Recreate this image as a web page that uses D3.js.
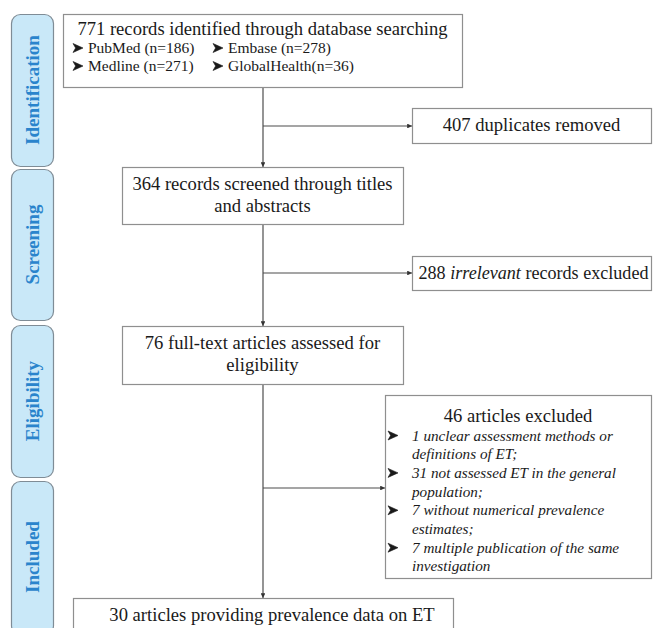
<!DOCTYPE html>
<meta charset='utf-8'>
<style>
  body { margin: 0; background: #fff; }
  svg text { font-family: 'Liberation Serif', 'Times New Roman', serif; fill: #1a1a1a; }
  .box { fill: #fff; stroke: #8f8f8f; stroke-width: 1.2px; }
  .stage rect { fill: #c9e8f8; stroke: #7f8c96; stroke-width: 1.2px; }
  .stage text { fill: #2a84cc; font-weight: bold; font-size: 19px; }
  .flow { stroke: #4d4d4d; stroke-width: 1.2px; fill: none; }
  .bullet { fill: #1a1a1a; stroke: #1a1a1a; stroke-width: 0.6px; stroke-linejoin: round; }
</style>
<svg width='653' height='628'></svg>
<script src='https://cdn.jsdelivr.net/npm/d3@7'></script>
<script>
  // ---- data ----
  var stages = ['Identification', 'Screening', 'Eligibility', 'Included'];
  var sources = ['PubMed', 'Embase', 'Medline', 'GlobalHealth'];
  var sourceCounts = [186, 278, 271, 36];
  var keptCounts = [771, 364, 76, 30];
  var keptLabels = [
    ['records identified through database searching'],
    ['records screened through titles', 'and abstracts'],
    ['full-text articles assessed for', 'eligibility'],
    ['articles providing prevalence data on ET']
  ];
  var removedCounts = [407, 288, 46];
  var removedLabels = ['duplicates removed', 'irrelevant records excluded', 'articles excluded'];
  var reasonCounts = [1, 31, 7, 7];
  var reasonLabels = [
    ['unclear assessment methods or', 'definitions of ET;'],
    ['not assessed ET in the general', 'population;'],
    ['without numerical prevalence', 'estimates;'],
    ['multiple publication of the same', 'investigation']
  ];

  // ---- layout ----
  var svg = d3.select('svg');
  var stageY = [[14, 166], [169, 320], [325, 477], [481, 634]];
  var mainBox = [[63, 14, 462, 87], [122, 167, 403, 224], [122, 326, 403, 384], [73, 598, 453, 660]];
  var sideBox = [[412, 108, 651, 143], [412, 256, 651, 290], [385, 395, 651, 578]];
  var branchY = [126, 273, 488];
  var spineX = 263;

  svg.append('defs').append('marker')
      .attr('id', 'arr').attr('viewBox', '0 0 6 6').attr('refX', 6).attr('refY', 3)
      .attr('markerWidth', 4).attr('markerHeight', 4).attr('orient', 'auto')
    .append('path').attr('d', 'M0,0L6,3L0,6Z').attr('fill', '#333');

  // stage labels
  var st = svg.append('g').selectAll('g.stage').data(stages).enter().append('g').attr('class', 'stage');
  st.append('rect')
      .attr('x', 11.5).attr('width', 42).attr('rx', 9)
      .attr('y', (d, i) => stageY[i][0] + 0.5)
      .attr('height', (d, i) => stageY[i][1] - stageY[i][0]);
  st.append('text')
      .attr('text-anchor', 'middle')
      .attr('transform', (d, i) => {
        var cy = i === 3 ? 557 : (stageY[i][0] + stageY[i][1]) / 2;
        return 'translate(39,' + cy + ') rotate(-90)';
      })
      .text(d => d);

  // flow lines
  var g = svg.append('g');
  for (var i = 0; i < 3; i++) {
    g.append('line').attr('class', 'flow')
        .attr('x1', spineX).attr('x2', spineX)
        .attr('y1', mainBox[i][3]).attr('y2', mainBox[i + 1][1])
        .attr('marker-end', 'url(#arr)');
    g.append('line').attr('class', 'flow')
        .attr('x1', spineX).attr('x2', sideBox[i][0])
        .attr('y1', branchY[i]).attr('y2', branchY[i])
        .attr('marker-end', 'url(#arr)');
  }

  // boxes
  function drawBox(b) {
    g.append('rect').attr('class', 'box')
        .attr('x', b[0] + 0.5).attr('y', b[1] + 0.5)
        .attr('width', b[2] - b[0]).attr('height', b[3] - b[1]);
  }
  mainBox.forEach(drawBox);
  sideBox.forEach(drawBox);

  // arrowhead bullet (like the Wingdings one)
  function bullet(x, y) {
    g.append('path').attr('class', 'bullet')
        .attr('transform', 'translate(' + x + ',' + y + ')')
        .attr('d', 'M0,-4.5L10,0L0,4.5L2.6,0Z');
  }

  // main box text
  var mainBase = [[35], [190, 212], [349, 371], [621]];
  var mainShift = [0, 0, 0, 9];
  keptCounts.forEach((c, i) => {
    var cx = (mainBox[i][0] + mainBox[i][2]) / 2 + mainShift[i];
    keptLabels[i].forEach((l, j) => {
      g.append('text').attr('x', cx).attr('y', mainBase[i][j])
          .attr('text-anchor', 'middle').attr('font-size', 18.6)
          .text(j === 0 ? c + ' ' + l : l);
    });
  });

  // database sources
  var srcPos = [[73, 53], [213, 53], [73, 71], [213, 71]];
  sources.forEach((s, i) => {
    bullet(srcPos[i][0], srcPos[i][1] - 5);
    g.append('text').attr('x', srcPos[i][0] + 15).attr('y', srcPos[i][1]).attr('font-size', 15.5)
        .text(s + (i === 3 ? '' : ' ') + '(n=' + sourceCounts[i] + ')');
  });

  // removed boxes
  var sideBase = [131, 279, 422];
  removedCounts.forEach((c, i) => {
    var cx = (sideBox[i][0] + sideBox[i][2]) / 2;
    var t = g.append('text').attr('x', i === 1 ? cx + 2 : cx).attr('y', sideBase[i])
        .attr('text-anchor', 'middle').attr('font-size', i === 1 ? 18.1 : 18.6);
    if (i === 1) {
      var w = removedLabels[i].split(' ');
      t.append('tspan').text(c + ' ');
      t.append('tspan').attr('font-style', 'italic').text(w[0]);
      t.append('tspan').text(' ' + w.slice(1).join(' '));
    } else {
      t.text(c + ' ' + removedLabels[i]);
    }
  });

  // exclusion reasons
  var lineH = 18.7, y0 = 440.5, k = 0;
  reasonCounts.forEach((c, i) => {
    reasonLabels[i].forEach((l, j) => {
      var y = y0 + k * lineH;
      if (j === 0) bullet(388, y - 5);
      g.append('text').attr('x', 412).attr('y', y)
          .attr('font-size', 15.2).attr('font-style', 'italic')
          .text(j === 0 ? c + ' ' + l : l);
      k++;
    });
  });
</script>
